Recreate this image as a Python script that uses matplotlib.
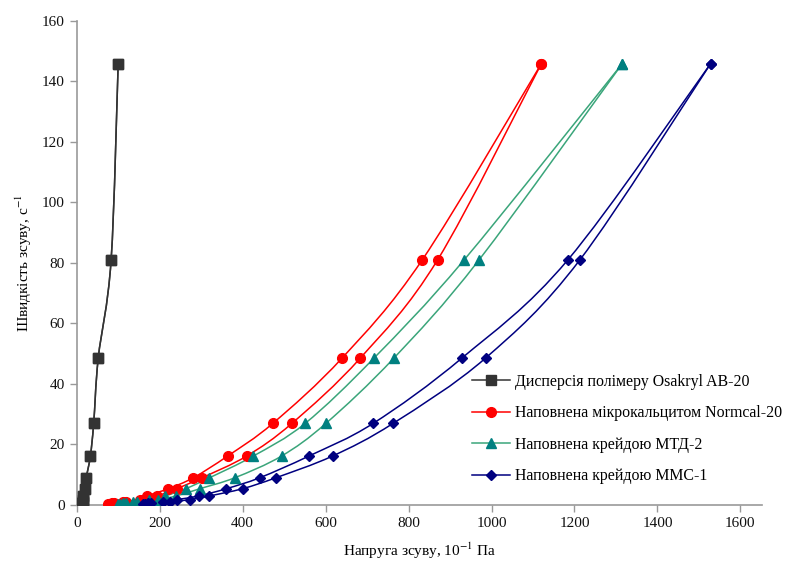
import numpy as np
import matplotlib.pyplot as plt
from matplotlib.path import Path
from matplotlib.patches import PathPatch
from matplotlib.lines import Line2D

plt.rcParams['font.family'] = ['Liberation Serif', 'DejaVu Serif']
plt.rcParams['mathtext.fontset'] = 'stix'

# швидкості зсуву (с^-1), однакові для всіх зразків
gamma = [0.333, 0.6, 1.0, 1.8, 3.0, 5.4, 9.0, 16.2, 27.0, 48.6, 81.0, 145.8]

# напруга зсуву, 10^-1 Па (прямий і зворотний хід)
osakryl_a = [13, 14, 14.5, 15, 16, 20, 23, 33, 41, 52, 83, 100]
osakryl_b = [13, 14, 14.5, 15, 16, 20, 23, 33, 41, 52, 83, 100]
normcal_a = [76, 84, 112, 152, 169, 221, 281, 364, 473, 640, 833, 1120]
normcal_b = [80, 90, 120, 160, 194, 241, 302, 410, 519, 684, 870, 1120]
mtd_a = [100, 112, 135, 175, 213, 263, 320, 426, 551, 717, 934, 1315]
mtd_b = [105, 118, 145, 195, 240, 297, 381, 494, 601, 765, 970, 1315]
mms_a = [160, 172, 207, 241, 295, 361, 441, 560, 715, 929, 1184, 1528]
mms_b = [165, 180, 225, 273, 320, 400, 480, 617, 763, 986, 1213, 1528]

labels = ['Дисперсія полімеру Osakryl AB-20',
          'Наповнена мікрокальцитом Normcal-20',
          'Наповнена крейдою МТД-2',
          'Наповнена крейдою ММС-1']


def smooth_path(x, y):
    # згладжена лінія як в Excel (кубічні криві Безьє)
    p = np.column_stack([x, y]).astype(float)
    verts = [p[0]]
    codes = [Path.MOVETO]
    n = len(p)
    for i in range(n - 1):
        p0 = p[i - 1] if i > 0 else p[i]
        p3 = p[i + 2] if i + 2 < n else p[i + 1]
        c1 = p[i] + (p[i + 1] - p0) / 6.0
        c2 = p[i + 1] - (p3 - p[i]) / 6.0
        verts += [c1, c2, p[i + 1]]
        codes += [Path.CURVE4] * 3
    return Path(verts, codes)


fig = plt.figure(figsize=(7.89, 5.63), dpi=100)
ax = fig.add_axes([0.0972, 0.1030, 0.868, 0.860])

# (маркер, колір лінії, колір маркера, розмір)
styles = [('s', '#333333', '#333333', 7),
          ('o', '#ff0000', '#ff0000', 7),
          ('^', '#3aa57a', '#008080', 7),
          ('D', '#000080', '#000080', 5)]
series = [(osakryl_a, osakryl_b), (normcal_a, normcal_b),
          (mtd_a, mtd_b), (mms_a, mms_b)]

handles = []
for (xa, xb), (m, lc, mc, ms), lab in zip(series, styles, labels):
    for xs in (xa, xb):
        ax.add_patch(PathPatch(smooth_path(xs, gamma), fc='none', ec=lc,
                               lw=1.1, zorder=2))
        ax.plot(xs, gamma, ls='none', marker=m, ms=ms, mfc=mc, mec=mc,
                zorder=3)
    handles.append(Line2D([], [], color=lc, lw=1.1, marker=m, ms=ms,
                          mfc=mc, mec=mc, label=lab))

ax.set_xlim(0, 1651)
ax.set_ylim(0, 160)
ax.set_xticks(np.arange(0, 1601, 200))
ax.set_yticks(np.arange(0, 161, 20))

for s in ['top', 'right']:
    ax.spines[s].set_visible(False)
for s in ['left', 'bottom']:
    ax.spines[s].set_color('#999999')
    ax.spines[s].set_linewidth(1.2)
ax.tick_params(direction='out', length=5, width=1, color='#999999',
               labelsize=11, labelcolor='#111111')

ax.set_xlabel('Напруга зсуву, 10$^{-1}$ Па', fontsize=11, labelpad=8)
ax.set_ylabel('Швидкість зсуву, с$^{-1}$', fontsize=11, labelpad=6)

fig.legend(handles=handles, loc='upper left', bbox_to_anchor=(0.598, 0.336),
           frameon=False, fontsize=11.4, handlelength=2.4, handletextpad=0.3,
           labelspacing=0.98, borderpad=0, borderaxespad=0)

plt.savefig('out.png', dpi=100)
